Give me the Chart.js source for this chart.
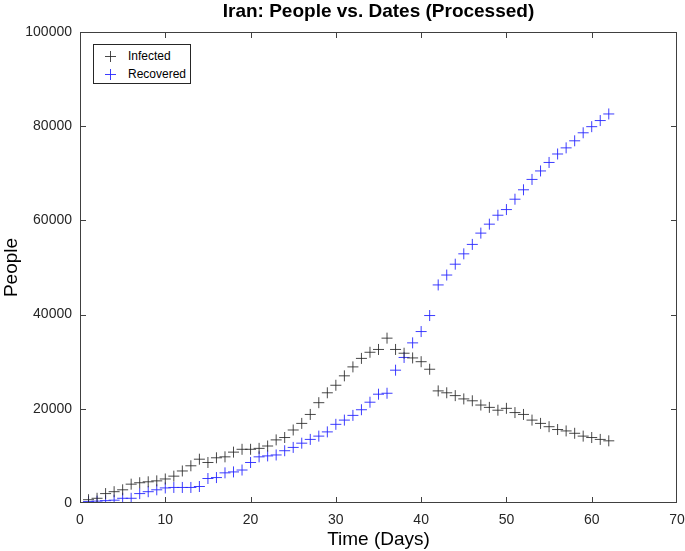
<!DOCTYPE html>
<html>
<head>
<meta charset="utf-8">
<script src="https://cdn.jsdelivr.net/npm/chart.js@4/dist/chart.umd.min.js"></script>
<style>
  body { margin: 0; background: #fff; }
  #wrap { position: relative; width: 685px; height: 551px; }
  #titulo {
    position: absolute; left: 80px; top: 0; width: 597px; text-align: center;
    font-family: "Liberation Sans", Arial, sans-serif; font-size: 19px; font-weight: bold;
    line-height: 22px; color: #000;
  }
  #legend-container {
    position: absolute; left: 93px; top: 44px; width: 96px; height: 38px;
    border: 1px solid #262626; background: #fff;
    font-family: "Liberation Sans", Arial, sans-serif; font-size: 12px; color: #000;
  }
  #legend-container ul { list-style: none; margin: 0; padding: 0; }
  #legend-container li { position: absolute; left: 0; height: 16px; line-height: 16px; }
  .mark { position: absolute; left: 11px; top: 3px; width: 11px; height: 11px; }
  .mark i { position: absolute; display: block; }
  .label { position: absolute; left: 34px; top: 0; white-space: nowrap; }
</style>
</head>
<body>
<div id="wrap">
  <canvas id="chartCanvas" width="685" height="551"></canvas>
  <div id="titulo">Iran: People vs. Dates (Processed)</div>
  <div id="legend-container"></div>
</div>
<script>
// datos
const dias = [1,2,3,4,5,6,7,8,9,10,11,12,13,14,15,16,17,18,19,20,21,22,23,24,25,26,27,28,29,30,31,
  32,33,34,35,36,37,38,39,40,41,42,43,44,45,46,47,48,49,50,51,52,53,54,55,56,57,58,59,60,61,62];

const infectados = [700,1000,2000,2400,2800,4000,4300,4500,4700,5100,5700,6800,7900,9300,8600,9600,9800,10800,11400,11400,
  11600,12100,13400,13900,15500,16900,18800,21300,23400,25000,27000,28900,30700,32000,32600,35000,32600,31800,30800,30000,
  28400,23800,23400,22800,22100,21700,20800,20300,19700,20100,19200,18800,17600,16900,16200,15600,15300,14800,14200,13900,
  13500,13200];

const recuperados = [300,400,500,600,1000,1000,2000,2400,2800,3200,3300,3300,3300,3500,5200,5400,6400,6600,7000,8600,
  9800,10000,10200,11100,11800,12700,13500,14200,15100,16700,17600,18600,19800,21400,23100,23300,28200,30900,34000,36400,
  39800,46300,48400,50700,52900,54900,57300,59200,61100,62300,64500,66500,68700,70500,72300,74100,75400,76900,78600,79900,
  81200,82600];

const ticksX = [0,10,20,30,40,50,60,70];
const ticksY = [0,20000,40000,60000,80000,100000];

const nombres = ['Infected', 'Recovered'];
const colores = ['rgba(40,40,40,0.85)', 'rgba(40,40,255,0.9)'];

const fuente = '"Liberation Sans", Arial, sans-serif';

function puntos(vals) {
  return dias.map((d, i) => ({x: d, y: vals[i]}));
}

// marco con marcas hacia dentro, estilo MATLAB
const marcoPlugin = {
  id: 'marco',
  afterDatasetsDraw(chart) {
    const {ctx, chartArea} = chart;
    const {left, right, top, bottom} = chartArea;
    const sx = chart.scales.x, sy = chart.scales.y;
    ctx.save();
    ctx.strokeStyle = '#404040';
    ctx.lineWidth = 1;
    ctx.strokeRect(left + 0.5, top + 0.5, right - left - 1, bottom - top - 1);
    ctx.beginPath();
    ticksX.forEach(v => {
      const px = Math.min(Math.round(sx.getPixelForValue(v)) + 0.5, right - 0.5);
      ctx.moveTo(px, bottom); ctx.lineTo(px, bottom - 6);
      ctx.moveTo(px, top); ctx.lineTo(px, top + 6);
    });
    ticksY.forEach(v => {
      const py = Math.min(Math.round(sy.getPixelForValue(v)) + 0.5, bottom - 0.5);
      ctx.moveTo(left, py); ctx.lineTo(left + 6, py);
      ctx.moveTo(right, py); ctx.lineTo(right - 6, py);
    });
    ctx.stroke();
    ctx.restore();
  }
};

const htmlLegendPlugin = {
  id: 'htmlLegend',
  afterUpdate(chart, args, options) {
    const cont = document.getElementById(options.containerID);
    let ul = cont.querySelector('ul');
    if (!ul) {
      ul = document.createElement('ul');
      cont.appendChild(ul);
    }
    while (ul.firstChild) {
      ul.firstChild.remove();
    }
    chart.data.datasets.forEach((ds, i) => {
      const li = document.createElement('li');
      li.style.top = (3 + i * 18) + 'px';
      const mark = document.createElement('span');
      mark.className = 'mark';
      const h = document.createElement('i');
      h.style.cssText = 'left:0;top:5px;width:11px;height:1px;background:' + ds.borderColor;
      const v = document.createElement('i');
      v.style.cssText = 'left:5px;top:0;width:1px;height:11px;background:' + ds.borderColor;
      mark.appendChild(h);
      mark.appendChild(v);
      const txt = document.createElement('span');
      txt.className = 'label';
      txt.textContent = ds.label;
      li.appendChild(mark);
      li.appendChild(txt);
      ul.appendChild(li);
    });
  }
};

const ctx = document.getElementById('chartCanvas').getContext('2d');

const chart = new Chart(ctx, {
  type: 'scatter',
  data: {
    datasets: [
      {label: nombres[0], data: puntos(infectados), borderColor: colores[0], backgroundColor: colores[0],
       pointStyle: 'cross', pointRadius: 5.5, pointHoverRadius: 5.5, borderWidth: 1},
      {label: nombres[1], data: puntos(recuperados), borderColor: colores[1], backgroundColor: colores[1],
       pointStyle: 'cross', pointRadius: 5.5, pointHoverRadius: 5.5, borderWidth: 1}
    ]
  },
  options: {
    responsive: false,
    animation: false,
    layout: {padding: {left: 0, right: 8, top: 32, bottom: 0}},
    scales: {
      x: {
        type: 'linear', min: 0, max: 70,
        afterBuildTicks: s => { s.ticks = ticksX.map(v => ({value: v})); },
        afterFit: s => { s.height = 48; s.paddingLeft = 0; s.paddingRight = 0; },
        grid: {display: false, drawTicks: false},
        border: {display: false},
        ticks: {color: '#262626', font: {family: fuente, size: 14}, padding: 9, maxRotation: 0},
        title: {display: true, text: 'Time (Days)', color: '#000', font: {family: fuente, size: 19}, padding: {top: 2, bottom: 0}}
      },
      y: {
        type: 'linear', min: 0, max: 100000,
        afterBuildTicks: s => { s.ticks = ticksY.map(v => ({value: v})); },
        afterFit: s => { s.width = 80; s.paddingTop = 0; s.paddingBottom = 0; },
        grid: {display: false, drawTicks: false},
        border: {display: false},
        ticks: {color: '#262626', font: {family: fuente, size: 14}, padding: 8, callback: v => String(v)},
        title: {display: true, text: 'People', color: '#000', font: {family: fuente, size: 19}, padding: {top: 0, bottom: 0}}
      }
    },
    plugins: {
      title: {display: false},
      legend: {display: false},
      tooltip: {enabled: false},
      htmlLegend: {containerID: 'legend-container'}
    }
  },
  plugins: [marcoPlugin, htmlLegendPlugin]
});
</script>
</body>
</html>
